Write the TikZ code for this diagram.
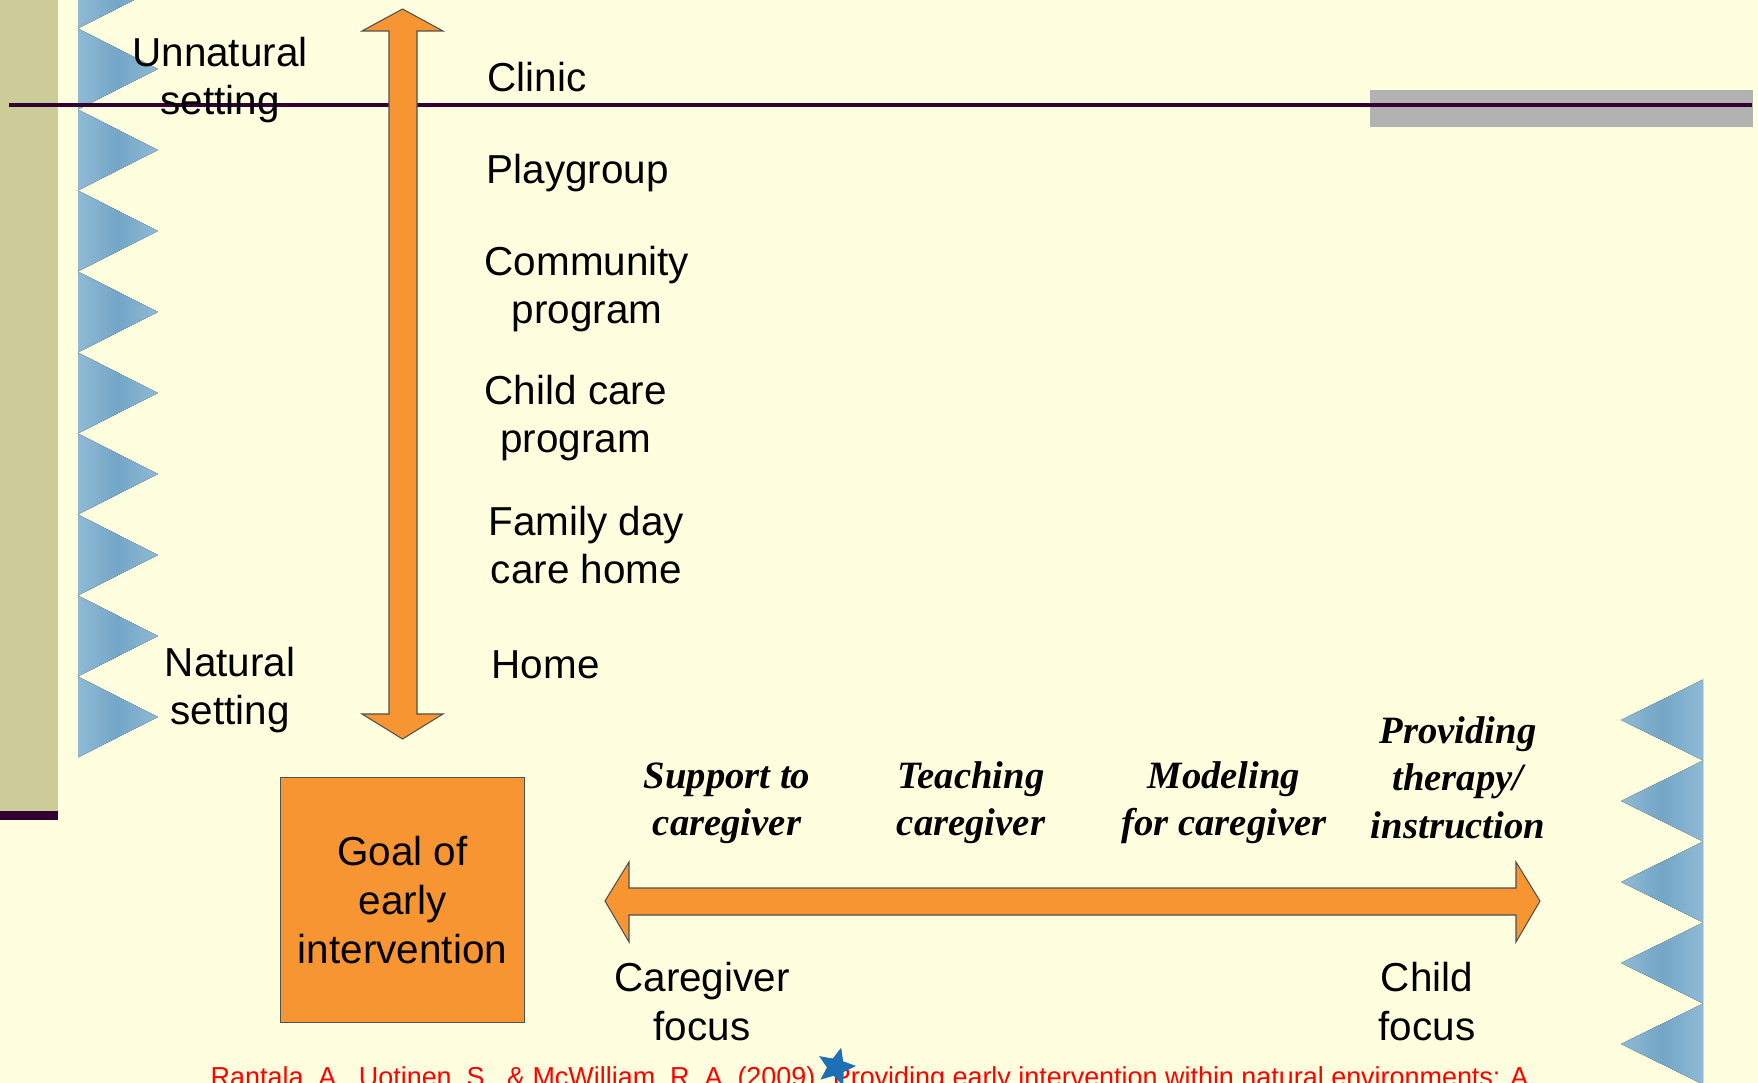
\documentclass[tikz,border=0pt]{standalone}
\usepackage{fontspec}
\usepackage{graphicx}
\setmainfont{Liberation Sans}
\newfontfamily\brushfont{Liberation Serif}
\usetikzlibrary{shapes.geometric}
\definecolor{slidebg}{HTML}{FFFFE0}
\definecolor{barbeige}{HTML}{CCCC99}
\definecolor{linepurple}{HTML}{330033}
\definecolor{bargray}{HTML}{B2B2B2}
\definecolor{arroworange}{HTML}{F89533}
\definecolor{arrowedge}{HTML}{505050}
\definecolor{trilight}{HTML}{8FBAD5}
\definecolor{tridark}{HTML}{74A6C7}
\definecolor{starblue}{HTML}{1F6FB5}
\begin{document}
\begin{tikzpicture}[x=0.01cm,y=-0.01cm,
       setting/.style={font=\fontsize{11.5}{13.9}\selectfont, align=center, inner sep=0pt},
       method/.style={font=\brushfont\bfseries\itshape\fontsize{11}{13.5}\selectfont, align=center, inner sep=0pt},
       fatarrow/.style={fill=arroworange, draw=arrowedge, line width=0.3pt},
       lefttri/.style={left color=trilight, right color=trilight, middle color=tridark},
       goalbox/.style={setting, fill=arroworange, draw=arrowedge, line width=0.3pt, minimum width=2.44cm, minimum height=2.44cm}]
       \useasboundingbox[fill=slidebg] (0,0) rectangle (1758,1083);
       \fill[barbeige] (0,0) rectangle (58,811);
       \fill[linepurple] (0,811) rectangle (58,820);
       \fill[bargray] (1370,90) rectangle (1753,127);
       \foreach \ty in {-12,69,150,231,312,393,474,555,636,717}
         \fill[lefttri] (78,\ty-40.5) -- (158,\ty) -- (78,\ty+40.5) -- cycle;
       \foreach \ty in {720,801,882,963,1044}
         \fill[lefttri] (1703,\ty-40.5) -- (1621,\ty) -- (1703,\ty+40.5) -- cycle;
       \draw[linepurple, line width=1.1pt] (9,105) -- (1752,105);
       \draw[fatarrow] (402.5,9) -- (443,31) -- (417,31) -- (417,714) -- (443,714) -- (402.5,739)
         -- (362,714) -- (389,714) -- (389,31) -- (362,31) -- cycle;
       \draw[fatarrow] (605,901) -- (629,862) -- (629,888) -- (1516,888) -- (1516,862) -- (1540,901)
         -- (1516,942) -- (1516,915) -- (629,915) -- (629,942) -- cycle;
       \node[goalbox] (goal) at (402.5,900) {Goal of\\early\\intervention};
       \node[setting, anchor=base] (unnatural) at (220,115) {Unnatural\\setting};
       \node[setting, anchor=base] (natural) at (230,725) {Natural\\setting};
       \node[setting, anchor=base west] (clinic) at (487,92) {Clinic};
       \node[setting, anchor=base west] (playgroup) at (486,184) {Playgroup};
       \node[setting, anchor=base west] (community) at (484,324) {Community\\program};
       \node[setting, anchor=base west] (childcare) at (484,453) {Child care\\program};
       \node[setting, anchor=base west] (familyday) at (488,584) {Family day\\care home};
       \node[setting, anchor=base west] (home) at (491,679) {Home};
       \node[method, anchor=base] (support) at (727,836) {Support to\\caregiver};
       \node[method, anchor=base] (teaching) at (971,836) {Teaching\\caregiver};
       \node[method, anchor=base] (modeling) at (1224,836) {Modeling\\for caregiver};
       \node[method, anchor=base] (therapy) at (1458,838) {Providing\\therapy/\\instruction};
       \node[setting, anchor=base] (caregiverfocus) at (702,1040) {Caregiver\\focus};
       \node[setting, anchor=base] (childfocus) at (1427,1040) {Child\\focus};
       \node[anchor=base west, inner sep=0pt, text=red, font=\fontsize{7.8}{9}\selectfont] (reference) at (210,1086)
         {\resizebox{13.17cm}{\height}{Rantala, A., Uotinen, S., \& McWilliam, R. A. (2009). Providing early intervention within natural environments: A}};
       \node[star, star points=5, star point ratio=2.2, fill=starblue, minimum size=0.4cm, inner sep=0pt, rotate=-15] (star) at (836,1067) {};
    \end{tikzpicture}
\end{document}
